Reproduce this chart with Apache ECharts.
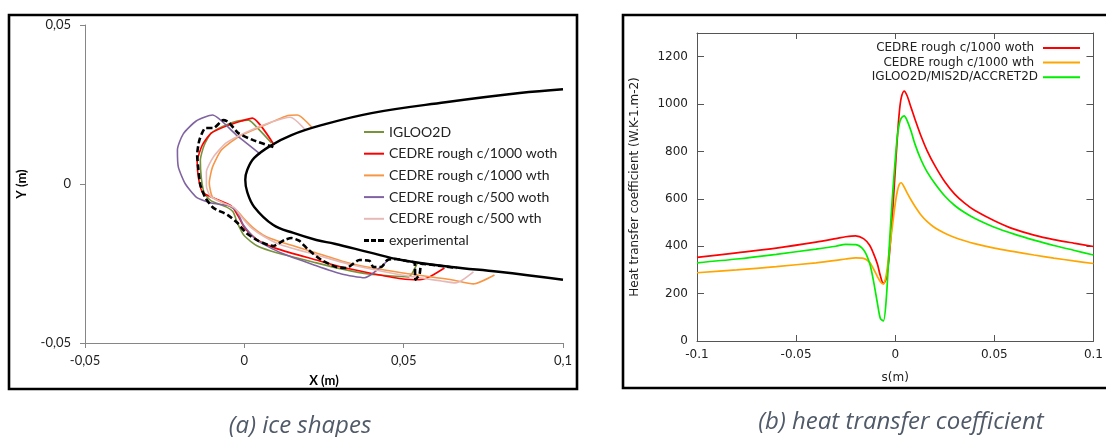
<!DOCTYPE html>
<html>
<head>
<meta charset="utf-8">
<script src="https://cdn.jsdelivr.net/npm/echarts@6/dist/echarts.min.js"></script>
<style>
html,body{margin:0;padding:0;background:#fff;}
#c{width:1106px;height:437px;}
</style>
</head>
<body>
<div id="c"></div>
<script>
// ---------- (a) ice shapes : [x (m), y (m)] ----------
const airfoil = [[0.1,0.0298],[0.0864,0.0286],[0.0631,0.0257],[0.0399,0.0223],[0.0242,0.0185],[0.0148,0.0154],[0.0085,0.0122],[0.0031,0.0082],[0.0009,0.0044],[0.0003,0.0013],[0.0009,-0.0025],[0.0031,-0.0072],[0.0091,-0.0129],[0.0154,-0.0154],[0.0226,-0.0176],[0.0283,-0.0188],[0.0389,-0.0214],[0.0493,-0.0239],[0.0650,-0.0261],[0.0798,-0.0276],[0.1,-0.0301]];
const iceIgloo = [[0.0085,0.0129],[0.0047,0.0170],[0.0013,0.0201],[-0.0022,0.0198],[-0.0066,0.0182],[-0.0104,0.0160],[-0.0126,0.0122],[-0.0138,0.0075],[-0.0135,0.0019],[-0.0126,-0.0028],[-0.0104,-0.0053],[-0.0057,-0.0072],[-0.0035,-0.0088],[-0.0022,-0.0122],[0.0,-0.0163],[0.0041,-0.0195],[0.0104,-0.0217],[0.0226,-0.0248],[0.0305,-0.0267],[0.0389,-0.0283],[0.0515,-0.0292],[0.0543,-0.0248]];
const iceC1000woth = [[0.0094,0.0122],[0.0025,0.0207],[-0.0009,0.0198],[-0.0057,0.0182],[-0.0104,0.0160],[-0.0132,0.0122],[-0.0148,0.0069],[-0.0144,0.0019],[-0.0132,-0.0025],[-0.0097,-0.0044],[-0.0041,-0.0069],[-0.0016,-0.0107],[0.0003,-0.0141],[0.0041,-0.0176],[0.0104,-0.0204],[0.0226,-0.0239],[0.0305,-0.0261],[0.0389,-0.0279],[0.0493,-0.0298],[0.0550,-0.0301],[0.0581,-0.0292],[0.0628,-0.0264]];
const iceC1000wth = [[0.0214,0.0176],[0.0166,0.0217],[0.0132,0.0214],[0.0050,0.0179],[-0.0019,0.0148],[-0.0072,0.0107],[-0.0100,0.0053],[-0.0110,0.0003],[-0.0100,-0.0041],[-0.0066,-0.0060],[-0.0025,-0.0082],[-0.0003,-0.0107],[0.0028,-0.0138],[0.0069,-0.0166],[0.0122,-0.0185],[0.0226,-0.0217],[0.0336,-0.0251],[0.0493,-0.0279],[0.0650,-0.0301],[0.0719,-0.0314],[0.0785,-0.0286]];
const iceC500woth = [[0.0050,0.0094],[-0.0025,0.0154],[-0.0100,0.0217],[-0.0151,0.0198],[-0.0192,0.0157],[-0.0210,0.0107],[-0.0207,0.0053],[-0.0185,0.0],[-0.0151,-0.0041],[-0.0104,-0.0060],[-0.0047,-0.0069],[-0.0022,-0.0088],[-0.0003,-0.0129],[0.0038,-0.0176],[0.0116,-0.0217],[0.0226,-0.0257],[0.0305,-0.0283],[0.0377,-0.0295],[0.0455,-0.0236]];
const iceC500wth = [[0.0192,0.0170],[0.0144,0.0210],[0.0085,0.0195],[0.0006,0.0163],[-0.0057,0.0129],[-0.0097,0.0085],[-0.0119,0.0038],[-0.0119,-0.0006],[-0.0107,-0.0038],[-0.0072,-0.0057],[-0.0031,-0.0075],[-0.0009,-0.0104],[0.0022,-0.0138],[0.0063,-0.0166],[0.0116,-0.0192],[0.0226,-0.0223],[0.0336,-0.0254],[0.0493,-0.0286],[0.0619,-0.0305],[0.0663,-0.0311],[0.0719,-0.0276]];
const iceExperimental = [[0.0091,0.0116],[0.0028,0.0138],[-0.0019,0.0160],[-0.0050,0.0195],[-0.0066,0.0201],[-0.0097,0.0176],[-0.0122,0.0176],[-0.0141,0.0138],[-0.0148,0.0091],[-0.0144,0.0044],[-0.0138,-0.0003],[-0.0122,-0.0044],[-0.0097,-0.0075],[-0.0053,-0.0097],[-0.0022,-0.0122],[0.0006,-0.0154],[0.0044,-0.0179],[0.0091,-0.0195],[0.0126,-0.0176],[0.0148,-0.0170],[0.0173,-0.0179],[0.0201,-0.0207],[0.0242,-0.0239],[0.0289,-0.0261],[0.0320,-0.0264],[0.0361,-0.0239],[0.0393,-0.0242],[0.0405,-0.0261],[0.0430,-0.0261],[0.0449,-0.0239],[0.0477,-0.0236],[0.0509,-0.0242],[0.0534,-0.0248],[0.0537,-0.0301],[0.0550,-0.0283],[0.0556,-0.0251],[0.0587,-0.0254],[0.0619,-0.0258],[0.0666,-0.0264]];
const iceNames = ['IGLOO2D','CEDRE rough c/1000 woth','CEDRE rough c/1000 wth','CEDRE rough c/500 woth','CEDRE rough c/500 wth','experimental'];
const iceColors = ['#77933c','#ff0000','#f79646','#8064a2','#e6b9b8','#000000'];

// ---------- (b) heat transfer coefficient ----------
const sValues = [-0.1,-0.08,-0.06,-0.04,-0.03,-0.025,-0.02,-0.016,-0.013,-0.011,-0.009,-0.0075,-0.006,-0.0045,-0.003,-0.0015,0,0.001,0.002,0.003,0.0045,0.006,0.008,0.01,0.013,0.016,0.02,0.025,0.03,0.035,0.04,0.05,0.06,0.07,0.08,0.09,0.1];
const htcRedWoth = [353,372,392,417,432,440,444,432,405,370,325,275,243,265,360,520,720,850,960,1025,1055,1035,985,935,865,805,740,672,620,582,552,508,472,447,428,413,399];
const htcOrangeWth = [288,300,314,330,340,346,351,349,333,305,272,250,240,280,380,480,580,630,660,668,650,625,595,568,532,505,478,455,437,423,411,392,377,363,350,338,327];
const htcGreenIgloo = [330,346,366,388,400,408,407,385,330,255,160,95,85,180,400,600,764,860,915,940,950,930,885,830,765,715,665,612,572,542,518,480,451,426,403,383,363];
const htcNames = ['CEDRE rough c/1000 woth','CEDRE rough c/1000 wth','IGLOO2D/MIS2D/ACCRET2D'];
const htcColors = ['#ff0000','#ffa500','#00ee00'];

const chart = echarts.init(document.getElementById('c'), null, {renderer:'canvas'});
const pair = (xs, ys) => xs.map((x,i)=>[x, ys[i]]);
const commaFmt = v => (Math.abs(v) < 1e-12 ? '0' : String(+v.toFixed(3)).replace('.', ','));

const iceData = [iceIgloo, iceC1000woth, iceC1000wth, iceC500woth, iceC500wth, iceExperimental];
const iceSeries = iceData.map((d,i)=>({
  type:'line', name: iceNames[i], xAxisIndex:0, yAxisIndex:0, data:d,
  symbol:'none', smooth:0.2, animation:false,
  lineStyle: i===5 ? {color:'#000', width:2.6, type:[6,3]} : {color:iceColors[i], width:1.6},
  itemStyle:{color:iceColors[i]}, z: i===5 ? 4 : 2
}));
const htcData = [htcRedWoth, htcOrangeWth, htcGreenIgloo];
const htcSeries = htcData.map((d,i)=>({
  type:'line', name: htcNames[i] + (i===2 ? '' : ' '), xAxisIndex:1, yAxisIndex:1, data: pair(sValues, d),
  symbol:'none', smooth:0.3, animation:false,
  lineStyle:{color:htcColors[i], width:1.7}, itemStyle:{color:htcColors[i]}
}));

const solidIcon = 'path://M0,0h20v2h-20z';
const dashIcon = 'path://M0,0h5v3h-5z M7,0h5v3h-5z M14,0h6v3h-6z';
const gpFont = 'DejaVu Sans';
const option = {
  backgroundColor:'#fff',
  animation:false,
  grid:[
    {left:85, top:25, width:478, height:318},
    {left:697, top:33, width:399, height:308}
  ],
  xAxis:[
    {gridIndex:0, type:'value', min:-0.05, max:0.1, interval:0.05,
     name:'X (m)', nameLocation:'middle', nameGap:31,
     nameTextStyle:{fontFamily:'Lato', fontWeight:'bold', fontSize:13, color:'#000'},
     axisLine:{show:true, onZero:false, lineStyle:{color:'#868686', width:1}},
     axisTick:{show:true, inside:false, length:5, lineStyle:{color:'#868686'}},
     axisLabel:{formatter:commaFmt, margin:11, fontFamily:'Lato', fontSize:13, color:'#222'},
     splitLine:{show:false}},
    {gridIndex:1, type:'value', min:-0.1, max:0.1, interval:0.05, position:'bottom',
     name:'s(m)', nameLocation:'middle', nameGap:31,
     nameTextStyle:{fontFamily:gpFont, fontSize:12, color:'#222'},
     axisLine:{show:true, onZero:false, lineStyle:{color:'#555', width:1}},
     axisTick:{show:true, inside:true, length:6, lineStyle:{color:'#555'}},
     axisLabel:{formatter: v => String(+v.toFixed(3)), margin:8, fontFamily:gpFont, fontSize:12, color:'#222'},
     splitLine:{show:false}},
    {gridIndex:1, type:'value', min:-0.1, max:0.1, interval:0.05, position:'top',
     axisLine:{show:true, onZero:false, lineStyle:{color:'#555', width:1}},
     axisTick:{show:true, inside:true, length:6, lineStyle:{color:'#555'}},
     axisLabel:{show:false}, splitLine:{show:false}}
  ],
  yAxis:[
    {gridIndex:0, type:'value', min:-0.05, max:0.05, interval:0.05,
     name:'Y (m)', nameLocation:'middle', nameGap:57, nameRotate:90,
     nameTextStyle:{fontFamily:'Lato', fontWeight:'bold', fontSize:13, color:'#000'},
     axisLine:{show:true, onZero:false, lineStyle:{color:'#868686', width:1}},
     axisTick:{show:true, inside:false, length:5, lineStyle:{color:'#868686'}},
     axisLabel:{formatter:commaFmt, margin:14, fontFamily:'Lato', fontSize:13, color:'#222'},
     splitLine:{show:false}},
    {gridIndex:1, type:'value', min:0, max:1300, interval:200, position:'left',
     name:'Heat transfer coefficient (W.K-1.m-2)', nameLocation:'middle', nameGap:56, nameRotate:90,
     nameTextStyle:{fontFamily:gpFont, fontSize:12, color:'#222'},
     axisLine:{show:true, onZero:false, lineStyle:{color:'#555', width:1}},
     axisTick:{show:true, inside:true, length:7, lineStyle:{color:'#555'}},
     axisLabel:{showMaxLabel:false, margin:9, fontFamily:gpFont, fontSize:12, color:'#222',
       formatter: v => (v > 1200 ? '' : String(v))},
     splitLine:{show:false}},
    {gridIndex:1, type:'value', min:0, max:1300, interval:200, position:'right',
     axisLine:{show:true, onZero:false, lineStyle:{color:'#555', width:1}},
     axisTick:{show:true, inside:true, length:7, lineStyle:{color:'#555'}},
     axisLabel:{show:false}, splitLine:{show:false}}
  ],
  legend:[
    {id:'legIce', orient:'vertical', left:359, top:120, itemWidth:20, itemHeight:3, itemGap:7.7,
     textStyle:{fontFamily:'Lato', fontSize:14, color:'#222', lineHeight:14},
     data: iceNames.map((n,i)=>({name:n, icon: i===5 ? dashIcon : solidIcon, itemStyle:{color:iceColors[i]}}))},
    {id:'legHtc', orient:'vertical', right:21, top:36, align:'right', itemWidth:37, itemHeight:2, itemGap:0.6,
     textStyle:{fontFamily:gpFont, fontSize:12, color:'#222', lineHeight:14},
     data: htcNames.map((n,i)=>({name:n + (i===2 ? '' : ' '), icon:'path://M0,0h37v2h-37z', itemStyle:{color:htcColors[i]}}))}
  ],
  graphic:[
    {type:'rect', shape:{x:9, y:15, width:568, height:374}, style:{fill:'none', stroke:'#000', lineWidth:2.6}, z:10},
    {type:'rect', shape:{x:623, y:15, width:520, height:373}, style:{fill:'none', stroke:'#000', lineWidth:2.6}, z:10},
    {type:'text', x:300, y:426, style:{text:'(a) ice shapes', textAlign:'center', textVerticalAlign:'middle', font:'italic 24px "Open Sans"', fill:'#505a68'}},
    {type:'text', x:901, y:422, style:{text:'(b) heat transfer coefficient', textAlign:'center', textVerticalAlign:'middle', font:'italic 24px "Open Sans"', fill:'#505a68'}}
  ],
  series: iceSeries.concat([{
    type:'line', name:'airfoil', xAxisIndex:0, yAxisIndex:0, data:airfoil,
    symbol:'none', smooth:0.4, animation:false, lineStyle:{color:'#000', width:2.4}, z:3
  }]).concat(htcSeries)
};
chart.setOption(option);
</script>
</body>
</html>
